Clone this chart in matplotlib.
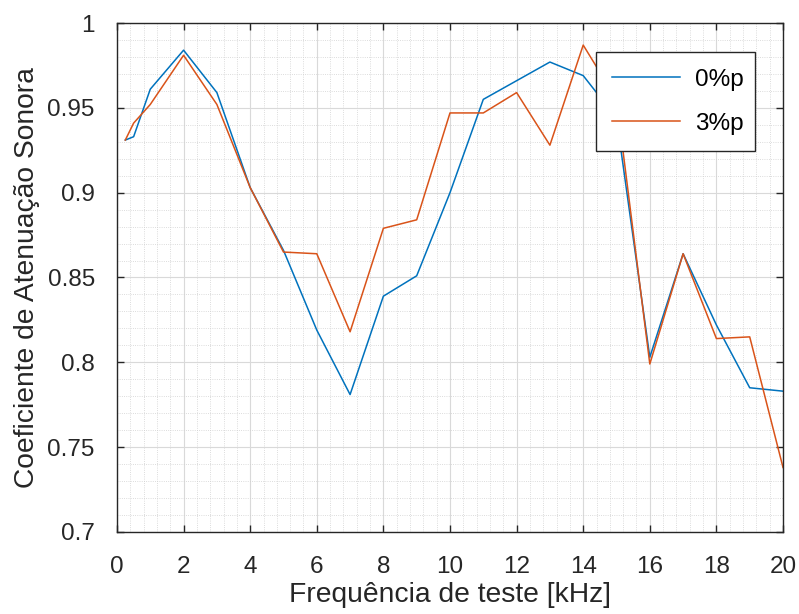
import matplotlib
matplotlib.use("Agg")
import matplotlib.pyplot as plt
from matplotlib.ticker import MultipleLocator, FormatStrFormatter

plt.rcParams['font.family'] = ['Liberation Sans', 'DejaVu Sans']

# frequencias de teste [kHz]
freq = [0.25, 0.5, 1, 2, 3, 4, 5, 6, 7, 8, 9, 10, 11, 12, 13, 14, 15, 16, 17, 18, 19, 20]

# coeficiente de atenuacao - 0%p
coef0 = [0.931, 0.933, 0.961, 0.984, 0.959, 0.903, 0.866, 0.819, 0.781, 0.839,
         0.851, 0.900, 0.955, 0.966, 0.977, 0.969, 0.944, 0.803, 0.864, 0.822,
         0.785, 0.783]

# coeficiente de atenuacao - 3%p
coef3 = [0.931, 0.941, 0.952, 0.981, 0.952, 0.903, 0.865, 0.864, 0.818, 0.879,
         0.884, 0.947, 0.947, 0.959, 0.928, 0.987, 0.955, 0.799, 0.864, 0.814,
         0.815, 0.738]

labels = ['0%p', '3%p']
colors = ['#0072BD', '#D95319']

fig = plt.figure(figsize=(7.99, 6.14), dpi=100)
ax = fig.add_axes([0.1464, 0.1336, 0.8336, 0.8289])

ax.plot(freq, coef0, color=colors[0], linewidth=1.1, label=labels[0])
ax.plot(freq, coef3, color=colors[1], linewidth=1.1, label=labels[1])

ax.set_xlim(0, 20)
ax.set_ylim(0.7, 1.0)
ax.xaxis.set_major_locator(MultipleLocator(2))
ax.xaxis.set_minor_locator(MultipleLocator(0.4))
ax.yaxis.set_major_locator(MultipleLocator(0.05))
ax.yaxis.set_minor_locator(MultipleLocator(0.01))
ax.yaxis.set_major_formatter(FormatStrFormatter('%g'))

ax.grid(which='major', color='#d9d9d9', linewidth=0.8, linestyle='-')
ax.grid(which='minor', color='#d0d0d0', linewidth=0.6, linestyle=':')
ax.set_axisbelow(True)

ax.tick_params(which='major', direction='in', length=5, width=1, top=True, right=True,
               labelsize=17.5, colors='#262626', pad=16)
ax.tick_params(axis='x', which='major', pad=17)
ax.tick_params(which='minor', length=0)
for s in ax.spines.values():
    s.set_color('#262626')
    s.set_linewidth(1)

ax.set_xlabel('Frequência de teste [kHz]', fontsize=20.3, color='#262626', labelpad=3)
ax.set_ylabel('Coeficiente de Atenuação Sonora', fontsize=20.3, color='#262626', labelpad=5)

leg = ax.legend(loc='upper left', bbox_to_anchor=(0.719, 0.749, 0.239, 0.194), mode='expand',
                borderaxespad=0, fontsize=17.5, fancybox=False, framealpha=1, edgecolor='#262626',
                handlelength=2.8, handletextpad=0.6, labelspacing=0.92, borderpad=0.68)
leg.get_frame().set_linewidth(1)

fig.savefig('out.png', dpi=100)
